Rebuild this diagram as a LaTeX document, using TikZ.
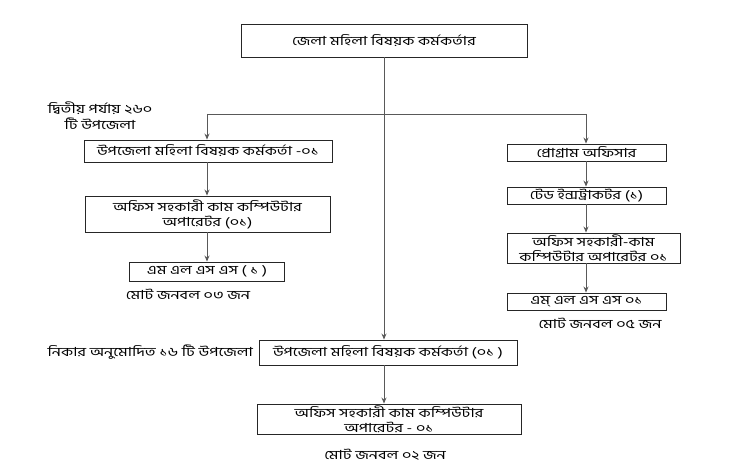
\documentclass[tikz,border=0pt]{standalone}
\usepackage{fontspec}
\setmainfont{Hind Siliguri}[Script=Bengali,FakeStretch=1.3]
\usetikzlibrary{arrows.meta}
\begin{document}
\begin{tikzpicture}[x=1pt,y=-1pt,
  box/.style={draw=black!85,line width=0.9pt,inner sep=0pt,align=center,font=\fontsize{12.5}{15}\selectfont},
  lbl/.style={inner sep=0pt,align=center,font=\fontsize{12.5}{16}\selectfont},
  conn/.style={draw=black!65,line width=0.9pt},
  arr/.style={conn,-{Stealth[length=6pt,width=5pt]}}]
\useasboundingbox[fill=white] (0,0) rectangle (746,473);
% top
\node[box,minimum width=286,minimum height=33] (top) at (384,40.5) {জেলা মহিলা বিষয়ক কর্মকর্তার};
% left column
\node[box,minimum width=248,minimum height=22] (L1) at (208,151) {উপজেলা মহিলা বিষয়ক কর্মকর্তা -০১};
\node[box,minimum width=245,minimum height=36] (L2) at (207.5,214) {অফিস সহকারী কাম কম্পিউটার\\অপারেটর (০১)};
\node[box,minimum width=155,minimum height=19] (L3) at (207,271.5) {এম এল এস এস ( ১ )};
\node[lbl] (Lt) at (188,294) {মোট জনবল ০৩ জন};
\node[lbl] (Llab) at (100,116) {দ্বিতীয় পর্যায় ২৬০\\টি উপজেলা};
% right column
\node[box,minimum width=159,minimum height=17] (R1) at (586.5,152.5) {প্রোগ্রাম অফিসার};
\node[box,minimum width=159,minimum height=17] (R2) at (586.5,195.5) {টেড ইন্সট্রাকটর  (১)};
\node[box,minimum width=173,minimum height=30] (R3) at (593.5,248) {অফিস সহকারী-কাম\\কম্পিউটার অপারেটর ০১};
\node[box,minimum width=159,minimum height=17] (R4) at (586.5,301.5) {এম্ এল এস এস ০১};
\node[lbl] (Rt) at (600,323) {মোট জনবল ০৫ জন};
% bottom
\node[box,minimum width=258,minimum height=25] (B1) at (388,352.5) {উপজেলা মহিলা বিষয়ক কর্মকর্তা (০১ )};
\node[lbl,anchor=east] (Blab) at (253,352) {নিকার অনুমোদিত ১৬ টি উপজেলা};
\node[box,minimum width=264,minimum height=30] (B2) at (389,419) {অফিস সহকারী কাম কম্পিউটার\\অপারেটর - ০১};
\node[lbl] (Bt) at (385,455) {মোট জনবল ০২ জন};
% connectors
\coordinate (jL) at (207,114);
\coordinate (jR) at (586,114);
\draw[conn] (jL) -- (jR);
\draw[arr] (jL) -- (jL |- L1.north);
\draw[arr] (jR) -- (jR |- R1.north);
\draw[arr] (top.south -| 384,0) -- (384,0 |- B1.north);
\draw[arr] (L1.south -| 207,0) -- (207,0 |- L2.north);
\draw[arr] (L2.south -| 207,0) -- (207,0 |- L3.north);
\draw[arr] (R1.south -| 586,0) -- (586,0 |- R2.north);
\draw[arr] (R2.south -| 586,0) -- (586,0 |- R3.north);
\draw[arr] (R3.south -| 586,0) -- (586,0 |- R4.north);
\draw[arr] (B1.south -| 384,0) -- (384,0 |- B2.north);
\end{tikzpicture}
\end{document}
